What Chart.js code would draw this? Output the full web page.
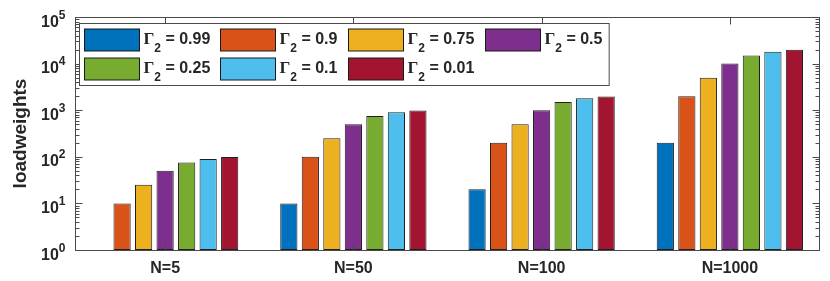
<!DOCTYPE html>
<html>
<head>
<meta charset="utf-8">
<script src="https://cdn.jsdelivr.net/npm/chart.js@4"></script>
<style>
  body { margin: 0; background: #fff; }
  #wrap { width: 830px; height: 281px; position: relative; }
</style>
</head>
<body>
<div id="wrap"><canvas id="chart"></canvas></div>
<script>
// Groups along the x axis
const categories = ['N=5', 'N=50', 'N=100', 'N=1000'];

// Gamma_2 values, one series each
const gammaLabels = ['0.99', '0.9', '0.75', '0.5', '0.25', '0.1', '0.01'];

// loadweights per series (same order as categories)
const g099 = [1, 10, 20, 200];
const g090 = [10, 100, 200, 2000];
const g075 = [25, 250, 500, 5000];
const g050 = [50, 500, 1000, 10000];
const g025 = [75, 750, 1500, 15000];
const g010 = [90, 900, 1800, 18000];
const g001 = [99, 990, 1980, 19800];
const seriesValues = [g099, g090, g075, g050, g025, g010, g001];

// y axis decades (10^0 .. 10^5)
const decadeExponents = [0, 1, 2, 3, 4, 5];

// MATLAB default colour order
const colors = ['#0072BD', '#D95319', '#EDB120', '#7E2F8E', '#77AC30', '#4DBEEE', '#A2142F'];

const axisColor = '#4a4a4a';
const textColor = '#262626';

// Draws the axes box, inward ticks, 10^n labels and the legend
const matlabAxes = {
  id: 'matlabAxes',
  afterDatasetsDraw(chart) {
    const ctx = chart.ctx;
    const x = chart.scales.x;
    const y = chart.scales.y;
    const left = 75.5, right = 819.5;
    const top = Math.round(y.getPixelForValue(1e5)) + 0.5;
    const bottom = Math.round(y.getPixelForValue(1)) + 0.5;

    ctx.save();
    ctx.strokeStyle = axisColor;
    ctx.lineWidth = 1;

    // category ticks, bottom and top
    ctx.beginPath();
    categories.forEach((c, i) => {
      const px = Math.round(x.getPixelForValue(i)) + 0.5;
      ctx.moveTo(px, bottom); ctx.lineTo(px, bottom - 7);
      ctx.moveTo(px, top); ctx.lineTo(px, top + 7);
    });
    ctx.stroke();

    // log ticks on the left and right sides
    ctx.beginPath();
    decadeExponents.forEach((e, k) => {
      const base = Math.pow(10, e);
      const py = Math.round(y.getPixelForValue(base)) + 0.5;
      ctx.moveTo(left, py); ctx.lineTo(left + 7, py);
      ctx.moveTo(right, py); ctx.lineTo(right - 7, py);
      if (k < decadeExponents.length - 1) {
        for (let m = 2; m <= 9; m++) {
          const my = Math.round(y.getPixelForValue(base * m)) + 0.5;
          ctx.moveTo(left, my); ctx.lineTo(left + 4, my);
          ctx.moveTo(right, my); ctx.lineTo(right - 4, my);
        }
      }
    });
    ctx.stroke();

    // axes box
    ctx.strokeRect(left, top, right - left, bottom - top);

    // 10^n tick labels
    ctx.fillStyle = textColor;
    ctx.textBaseline = 'alphabetic';
    decadeExponents.forEach(e => {
      const py = y.getPixelForValue(Math.pow(10, e));
      ctx.font = 'bold 12px "Liberation Sans", Arial, sans-serif';
      const supW = ctx.measureText(String(e)).width;
      ctx.textAlign = 'right';
      ctx.fillText(String(e), 65.5, py + 1.5);
      ctx.font = 'bold 16px "Liberation Sans", Arial, sans-serif';
      ctx.fillText('10', 65.5 - supW, py + 9.5);
    });

    // legend
    const ds = chart.data.datasets;
    const nCols = 4;
    const swW = 55, swH = 22, rowH = 29;
    const boxL = 79.5, boxT = 23.5;
    const mainFont = 'bold 16px "Liberation Sans", Arial, sans-serif';
    const gammaFont = 'bold 17px "Liberation Serif", "Times New Roman", serif';
    const subFont = 'bold 12px "Liberation Sans", Arial, sans-serif';

    const textWidth = label => {
      ctx.font = gammaFont; let w = ctx.measureText('\u0393').width;
      ctx.font = subFont; w += ctx.measureText('2').width;
      ctx.font = mainFont; w += ctx.measureText(' = ' + label).width;
      return w;
    };
    const colW = [];
    ds.forEach((d, i) => {
      const c = i % nCols;
      colW[c] = Math.max(colW[c] || 0, textWidth(d.label));
    });
    const colX = [];
    let cx = boxL + 4;
    colW.forEach((w, c) => { colX[c] = cx; cx += swW + 4 + w + 11; });
    const boxR = cx - 11 + 7;
    const nRows = Math.ceil(ds.length / nCols);

    ctx.fillStyle = '#fff';
    ctx.fillRect(boxL, boxT, boxR - boxL, nRows * rowH + 4);
    ctx.strokeStyle = axisColor;
    ctx.strokeRect(boxL, boxT, boxR - boxL, nRows * rowH + 4);

    ds.forEach((d, i) => {
      const r = Math.floor(i / nCols), c = i % nCols;
      const sx = Math.round(colX[c]) + 0.5;
      const sy = boxT + 5.5 + r * rowH;
      ctx.fillStyle = d.backgroundColor;
      ctx.fillRect(sx, sy, swW, swH);
      ctx.strokeStyle = '#1a1a1a';
      ctx.strokeRect(sx, sy, swW, swH);

      let tx = sx + swW + 4;
      const base = sy + 14.5;
      ctx.fillStyle = textColor;
      ctx.textAlign = 'left';
      ctx.font = gammaFont;
      ctx.fillText('\u0393', tx, base);
      tx += ctx.measureText('\u0393').width;
      ctx.font = subFont;
      ctx.fillText('2', tx, base + 8.5);
      tx += ctx.measureText('2').width;
      ctx.font = mainFont;
      ctx.fillText(' = ' + d.label, tx, base);
    });
    ctx.restore();
  }
};

const datasets = seriesValues.map((vals, i) => ({
  label: gammaLabels[i],
  data: vals,
  backgroundColor: colors[i],
  borderColor: '#1f1f1f',
  borderWidth: 1,
  borderSkipped: false,
  categoryPercentage: 0.8,
  barPercentage: 0.8,
}));

new Chart(document.getElementById('chart'), {
  type: 'bar',
  data: { labels: categories, datasets: datasets },
  options: {
    responsive: true,
    maintainAspectRatio: false,
    animation: false,
    layout: { padding: { top: 17, right: 6, left: 0, bottom: 0 } },
    plugins: {
      legend: { display: false },
      tooltip: { enabled: false },
    },
    scales: {
      x: {
        grid: { display: false, drawTicks: false },
        border: { display: false },
        ticks: {
          padding: 9,
          color: textColor,
          font: { family: '"Liberation Sans", Arial, sans-serif', size: 16, weight: 'bold' },
        },
        afterFit: s => { s.height = 31; },
      },
      y: {
        type: 'logarithmic',
        min: 1,
        max: 100000,
        grid: { display: false, drawTicks: false },
        border: { display: false },
        ticks: { display: false },
        title: {
          display: true,
          text: 'loadweights',
          color: textColor,
          padding: { top: 9, bottom: 0 },
          font: { family: '"Liberation Sans", Arial, sans-serif', size: 19, weight: 'bold' },
        },
        afterFit: s => { s.width = 71; },
      },
    },
  },
  plugins: [matlabAxes],
});
</script>
</body>
</html>
